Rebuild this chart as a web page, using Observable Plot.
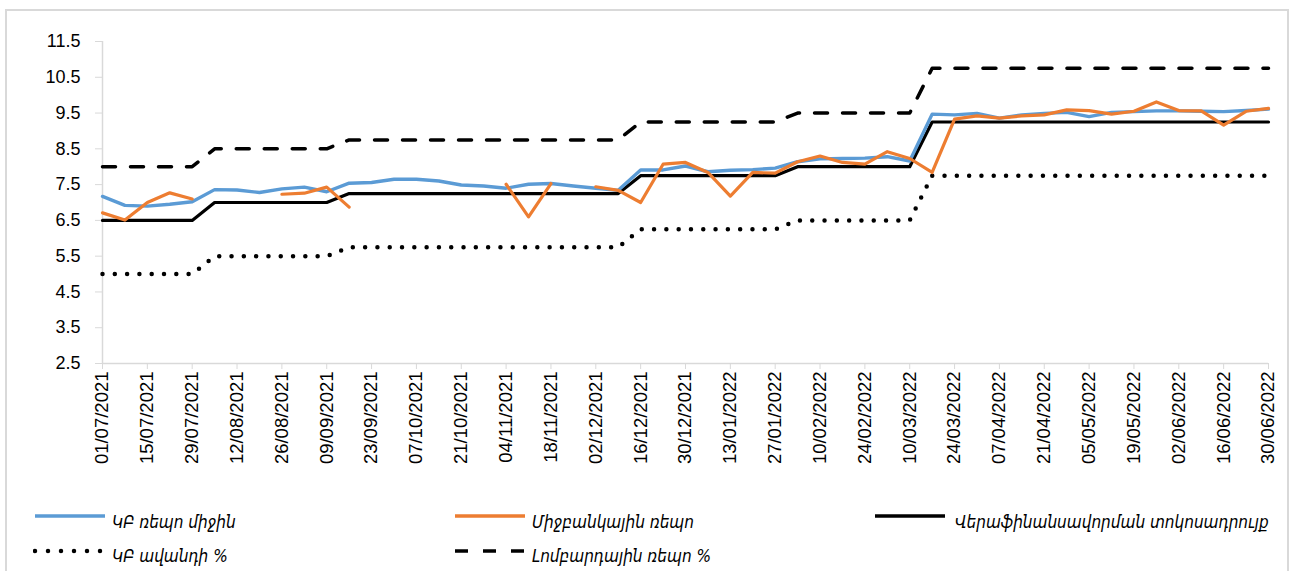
<!DOCTYPE html>
<html><head><meta charset="utf-8">
<script src="https://cdn.jsdelivr.net/npm/d3@7"></script>
<script src="https://cdn.jsdelivr.net/npm/@observablehq/plot@0.6"></script>
<style>
body{margin:0;background:#fff;}
#wrap{position:relative;width:1292px;height:571px;overflow:hidden;background:#fff;}
#frame{position:absolute;left:5px;top:9px;width:1284px;height:620px;border:2px solid #d9d9d9;box-sizing:border-box;}
#chart{position:absolute;left:0;top:0;}
.sw{position:absolute;}
.lt{position:absolute;font-family:"DejaVu Sans Condensed","DejaVu Sans";font-stretch:condensed;font-style:italic;font-size:17px;line-height:17px;color:#000;white-space:nowrap;}
</style></head>
<body>
<div id="wrap">
<div id="frame"></div>
<div id="chart"></div>
<div id="legend"></div>
</div>
<script>
const dates = ["2021-07-01","2021-07-08","2021-07-15","2021-07-22","2021-07-29","2021-08-05","2021-08-12","2021-08-19","2021-08-26","2021-09-02","2021-09-09","2021-09-16","2021-09-23","2021-09-30","2021-10-07","2021-10-14","2021-10-21","2021-10-28","2021-11-04","2021-11-11","2021-11-18","2021-11-25","2021-12-02","2021-12-09","2021-12-16","2021-12-23","2021-12-30","2022-01-06","2022-01-13","2022-01-20","2022-01-27","2022-02-03","2022-02-10","2022-02-17","2022-02-24","2022-03-03","2022-03-10","2022-03-17","2022-03-24","2022-03-31","2022-04-07","2022-04-14","2022-04-21","2022-04-28","2022-05-05","2022-05-12","2022-05-19","2022-05-26","2022-06-02","2022-06-09","2022-06-16","2022-06-23","2022-06-30"];

const cbRepoAvg = [7.17,6.92,6.90,6.95,7.02,7.36,7.35,7.28,7.38,7.43,7.30,7.54,7.56,7.65,7.65,7.60,7.49,7.46,7.40,7.51,7.53,7.46,7.40,7.34,7.91,7.91,8.02,7.86,7.90,7.92,7.96,8.14,8.22,8.23,8.24,8.28,8.16,9.47,9.45,9.49,9.36,9.45,9.49,9.52,9.40,9.52,9.54,9.56,9.56,9.55,9.54,9.57,9.61];

const interbankRepo = [6.71,6.51,7.00,7.27,7.10,null,null,null,7.23,7.26,7.43,6.87,null,null,null,null,null,null,7.51,6.60,7.53,null,7.44,7.34,7.00,8.07,8.12,7.84,7.18,7.84,7.82,8.14,8.30,8.12,8.07,8.42,8.23,7.84,9.33,9.42,9.36,9.42,9.45,9.59,9.57,9.47,9.55,9.81,9.57,9.56,9.16,9.55,9.63];

const refiRate = [6.5,6.5,6.5,6.5,6.5,7.0,7.0,7.0,7.0,7.0,7.0,7.25,7.25,7.25,7.25,7.25,7.25,7.25,7.25,7.25,7.25,7.25,7.25,7.25,7.75,7.75,7.75,7.75,7.75,7.75,7.75,8.0,8.0,8.0,8.0,8.0,8.0,9.25,9.25,9.25,9.25,9.25,9.25,9.25,9.25,9.25,9.25,9.25,9.25,9.25,9.25,9.25,9.25];

const depositRate = [5.0,5.0,5.0,5.0,5.0,5.5,5.5,5.5,5.5,5.5,5.5,5.75,5.75,5.75,5.75,5.75,5.75,5.75,5.75,5.75,5.75,5.75,5.75,5.75,6.25,6.25,6.25,6.25,6.25,6.25,6.25,6.5,6.5,6.5,6.5,6.5,6.5,7.75,7.75,7.75,7.75,7.75,7.75,7.75,7.75,7.75,7.75,7.75,7.75,7.75,7.75,7.75,7.75];

const lombardRate = [8.0,8.0,8.0,8.0,8.0,8.5,8.5,8.5,8.5,8.5,8.5,8.75,8.75,8.75,8.75,8.75,8.75,8.75,8.75,8.75,8.75,8.75,8.75,8.75,9.25,9.25,9.25,9.25,9.25,9.25,9.25,9.5,9.5,9.5,9.5,9.5,9.5,10.75,10.75,10.75,10.75,10.75,10.75,10.75,10.75,10.75,10.75,10.75,10.75,10.75,10.75,10.75,10.75];

const xTickLabels = ["01/07/2021","15/07/2021","29/07/2021","12/08/2021","26/08/2021","09/09/2021","23/09/2021","07/10/2021","21/10/2021","04/11/2021","18/11/2021","02/12/2021","16/12/2021","30/12/2021","13/01/2022","27/01/2022","10/02/2022","24/02/2022","10/03/2022","24/03/2022","07/04/2022","21/04/2022","05/05/2022","19/05/2022","02/06/2022","16/06/2022","30/06/2022"];
const yTicks = [2.5,3.5,4.5,5.5,6.5,7.5,8.5,9.5,10.5,11.5];

const seriesNames = ["ԿԲ ռեպո միջին","Միջբանկային ռեպո","Վերաֆինանսավորման տոկոսադրույք","ԿԲ ավանդի %","Լոմբարդային ռեպո %"];

const parseISO = d3.utcParse("%Y-%m-%d");
const parseLbl = d3.utcParse("%d/%m/%Y");
const fmtLbl = d3.utcFormat("%d/%m/%Y");
const rows = vals => dates.map((d, i) => ({date: parseISO(d), value: vals[i]}));
const tickDates = xTickLabels.map(parseLbl);

const axisGray = "#d9d9d9";
const blue = "#5B9BD5", orange = "#ED7D31", black = "#000000";
const dotDash = "0,12.3", dashDash = "13,15";

const plot = Plot.plot({
  width: 1292, height: 490,
  marginLeft: 102, marginRight: 24, marginTop: 41, marginBottom: 127,
  x: {type: "utc", domain: [parseISO(dates[0]), parseISO(dates[dates.length - 1])]},
  y: {domain: [2.5, 11.5]},
  style: {fontFamily: "'Liberation Sans', Arial, sans-serif", background: "transparent", color: "#000"},
  marks: [
    Plot.ruleX([parseISO(dates[0])], {stroke: axisGray, strokeWidth: 1.5}),
    Plot.ruleY([2.5], {stroke: axisGray, strokeWidth: 1.5}),
    Plot.axisY({ticks: yTicks, tickFormat: d3.format(".1f"), tickSize: 7, tickPadding: 15, stroke: axisGray, fill: "#000", fontSize: 18, label: null}),
    Plot.axisX({ticks: tickDates, tickFormat: fmtLbl, tickSize: 6, tickPadding: 2, tickRotate: -90, stroke: axisGray, fill: "#000", fontSize: 18.5, label: null}),
    Plot.line(rows(refiRate), {x: "date", y: "value", stroke: black, strokeWidth: 3.2}),
    Plot.line(rows(depositRate), {x: "date", y: "value", stroke: black, strokeWidth: 4.5, strokeDasharray: dotDash, strokeLinecap: "round"}),
    Plot.line(rows(lombardRate), {x: "date", y: "value", stroke: black, strokeWidth: 3.5, strokeDasharray: dashDash}),
    Plot.line(rows(cbRepoAvg), {x: "date", y: "value", stroke: blue, strokeWidth: 3.4}),
    Plot.line(rows(interbankRepo), {x: "date", y: "value", stroke: orange, strokeWidth: 3.2})
  ]
});
document.getElementById("chart").appendChild(plot);

// legend
const legendItems = [
  {name: seriesNames[0], color: blue, dash: null, w: 3.4, sx: 35, sy: 516, tx: 112, ty: 514},
  {name: seriesNames[1], color: orange, dash: null, w: 3.4, sx: 455, sy: 516, tx: 532, ty: 514},
  {name: seriesNames[2], color: black, dash: null, w: 3.4, sx: 875, sy: 516, tx: 955, ty: 514},
  {name: seriesNames[3], color: black, dash: dotDash, w: 4.5, sx: 35, sy: 551, tx: 112, ty: 548, cap: "round"},
  {name: seriesNames[4], color: black, dash: dashDash, w: 3.5, sx: 455, sy: 551, tx: 532, ty: 548}
];
const leg = document.getElementById("legend");
for (const it of legendItems) {
  const svg = d3.create("svg").attr("class", "sw").attr("width", 74).attr("height", 12)
    .style("left", (it.sx - 2) + "px").style("top", (it.sy - 6) + "px");
  svg.append("line").attr("x1", 2).attr("x2", it.dash === dotDash ? 68 : 72).attr("y1", 6).attr("y2", 6)
    .attr("stroke", it.color).attr("stroke-width", it.w)
    .attr("stroke-dasharray", it.dash === dotDash ? "0,13" : it.dash)
    .attr("stroke-linecap", it.cap || "butt");
  leg.appendChild(svg.node());
  const t = document.createElement("div");
  t.className = "lt";
  t.style.left = it.tx + "px"; t.style.top = it.ty + "px";
  t.textContent = it.name;
  leg.appendChild(t);
}
</script>
</body></html>
